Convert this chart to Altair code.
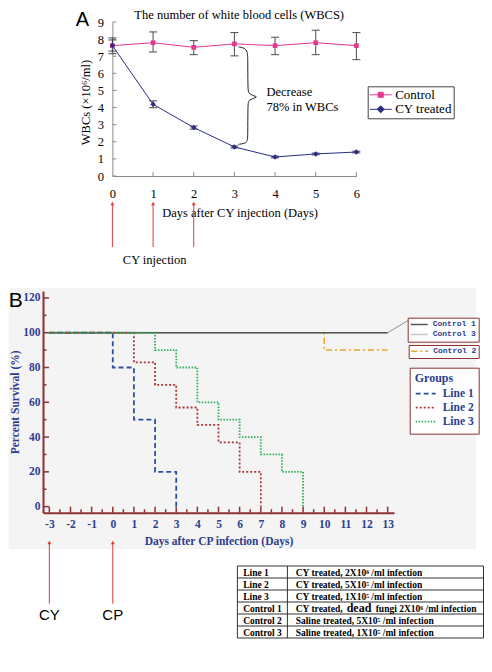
import altair as alt
import pandas as pd

# ---------------- Panel A data ----------------
days_a = [0, 1, 2, 3, 4, 5, 6]
series_a = ["Control", "CY treated"]
control_mean = [7.62, 7.79, 7.52, 7.72, 7.62, 7.79, 7.62]
control_lo = [7.15, 7.25, 7.09, 7.02, 7.09, 7.09, 6.80]
control_hi = [8.07, 8.42, 7.91, 8.38, 8.11, 8.52, 8.38]
cy_mean = [7.62, 4.19, 2.83, 1.70, 1.11, 1.29, 1.40]
cy_lo = [7.30, 3.99, 2.74, 1.64, 1.06, 1.24, 1.35]
cy_hi = [7.95, 4.39, 2.92, 1.76, 1.16, 1.34, 1.45]
a_yticks = [0, 1, 2, 3, 4, 5, 6, 7, 8, 9]
a_xticks = [0, 1, 2, 3, 4, 5, 6]
cy_injection_days = [0, 1, 2]
brace_x = [3.10, 3.26, 3.32, 3.33, 3.33, 3.35, 3.55, 3.55, 3.35, 3.33, 3.33, 3.32, 3.26, 3.10]
brace_y = [7.55, 7.48, 7.25, 6.95, 5.05, 4.78, 4.64, 4.60, 4.46, 4.20, 2.30, 2.05, 1.90, 1.85]

# ---------------- Panel B data ----------------
b_xticks = list(range(-3, 14))
b_yticks = [0, 20, 40, 60, 80, 100, 120]
b_xminor = [x + 0.5 for x in range(-3, 13)]
b_yminor = [10, 30, 50, 70, 90, 110]
groups = ["Line 1", "Line 2", "Line 3"]
line1_x = [-3, 0, 1, 2, 3]
line1_y = [100, 80, 50, 20, 0]
line2_x = [-3, 1, 2, 3, 4, 5, 6, 7]
line2_y = [100, 83, 70, 57, 47, 37, 20, 0]
line3_x = [-3, 2, 3, 4, 5, 6, 7, 8, 9]
line3_y = [100, 90, 80, 60, 50, 40, 30, 20, 0]
controls13 = ["Control 1", "Control 3"]
control13_x = [-3, 13]
control13_y = [100, 100]
control2_x = [-3, 10, 13]
control2_y = [100, 90, 90]
leader_x = [13, 14.0]
leader_y = [100, 107.3]
cp_marks_days = [-3, 0]
cp_marks_text = ["CY", "CP"]

# ---------------- Table ----------------
table_rows = ["Line 1", "Line 2", "Line 3", "Control 1", "Control 2", "Control 3"]
table_desc = ["CY treated,  2X10\u2076 /ml infection",
              "CY treated,  5X10\u2075 /ml infection",
              "CY treated,  1X10\u2075 /ml infection",
              "CY treated,",
              "Saline treated,  5X10\u2075 /ml infection",
              "Saline treated,  1X10\u2075 /ml infection"]
table_big = ["", "", "", "dead", "", ""]
table_tail = ["", "", "", "fungi 2X10\u2076 /ml infection", "", ""]

# ---------------- style / layout ----------------
SERIF = "Liberation Serif"
SANS = "Liberation Sans"
MONO = "Liberation Mono"
PINK = "#e4388e"
NAVY = "#2b2e86"
RED = "#e03c3c"
AXA = "#8a8a8a"
DR = "#8b3232"
BLUE = "#2c3e8f"

A_LEFT, A_W, A_H = 69.4, 244.0, 154.0
B_W, B_H = 351.0, 221.7
S1, S2 = 114.3, 52.3
T_W, T_H = 441.0, 72.0

dummy = pd.DataFrame({"z": [0]})

# ================= Panel A =================
AX_XA = alt.Axis(values=a_xticks, format="d", ticks=False, grid=False, domainColor=AXA,
                 labelFont=SERIF, labelFontSize=12.5, labelColor="black", labelPadding=11,
                 labelFlush=False, labelOverlap=False,
                 title="Days after CY injection (Days)", titleFont=SERIF, titleFontSize=12.5,
                 titleFontWeight="normal", titleColor="black", titleX=196.6, titleY=36.3,
                 titleBaseline="middle", titleAlign="center")
AX_YA = alt.Axis(values=a_yticks, format="d", ticks=False, grid=False, offset=-A_LEFT,
                 domainColor=AXA, labelFont=SERIF, labelFontSize=12.5, labelColor="black",
                 labelPadding=9, labelFlush=False, labelOverlap=False,
                 title="WBCs (\u00d710\u2076/ml)", titleFont=SERIF, titleFontSize=12.5,
                 titleFontWeight="normal", titleColor="black", titleX=-26.7, titleY=80,
                 titleAngle=270, titleBaseline="middle", titleAlign="center")


def XA(f):
    return alt.X(f"{f}:Q", scale=alt.Scale(domain=[0, 6], range=[A_LEFT, A_LEFT + A_W], nice=False, zero=False), axis=AX_XA)


def YA(f):
    return alt.Y(f"{f}:Q", scale=alt.Scale(domain=[0, 9], nice=False, zero=False), axis=AX_YA)


dfA = pd.DataFrame({
    "day": days_a * 2,
    "series": [series_a[0]] * 7 + [series_a[1]] * 7,
    "mean": control_mean + cy_mean,
    "lo": control_lo + cy_lo,
    "hi": control_hi + cy_hi,
})
baseA = alt.Chart(dfA)

ticks_ya = alt.Chart(pd.DataFrame({"v": a_yticks})).mark_rule(color=AXA).encode(
    y=YA("v"), x=alt.value(A_LEFT), x2=alt.value(A_LEFT + 4))
ticks_xa = alt.Chart(pd.DataFrame({"v": a_xticks[1:]})).mark_rule(color=AXA).encode(
    x=XA("v"), y=alt.value(A_H), y2=alt.value(A_H - 4))

err = baseA.mark_rule(color="#4a4a4a", strokeWidth=1).encode(x=XA("day"), y=YA("lo"), y2="hi:Q")
cap_lo = baseA.mark_rule(color="#4a4a4a", xOffset=-4, x2Offset=4).encode(x=XA("day"), x2="day:Q", y=YA("lo"))
cap_hi = baseA.mark_rule(color="#4a4a4a", xOffset=-4, x2Offset=4).encode(x=XA("day"), x2="day:Q", y=YA("hi"))

ctrl = baseA.transform_filter(alt.datum.series == "Control")
cyt = baseA.transform_filter(alt.datum.series == "CY treated")
line_c = ctrl.mark_line(color=PINK, strokeWidth=1).encode(x=XA("day"), y=YA("mean"))
pts_c = ctrl.mark_point(shape="square", filled=True, size=22, color=PINK, opacity=1).encode(x=XA("day"), y=YA("mean"))
line_cy = cyt.mark_line(color=NAVY, strokeWidth=1).encode(x=XA("day"), y=YA("mean"))
pts_cy = cyt.mark_point(shape="diamond", filled=True, size=30, color=NAVY, opacity=1).encode(x=XA("day"), y=YA("mean"))

SQ_PATH = "M-1,0H1M-0.23,-0.23H0.23V0.23H-0.23Z"
DIA_PATH = "M-1,0H1M0,-0.32L0.32,0L0,0.32L-0.32,0Z"
LEG_A = alt.Legend(title=None, orient="none", legendX=324.7, legendY=64.3, direction="vertical",
                   symbolSize=484, symbolStrokeWidth=1, symbolOpacity=1, clipHeight=14,
                   rowPadding=0.5, padding=1.5, labelOffset=3, labelFont=SERIF, labelFontSize=13,
                   labelColor="black", strokeColor="#444", fillColor="white")
carrier = baseA.mark_point(filled=True, opacity=0, size=1).encode(
    x=XA("day"), y=YA("mean"),
    fill=alt.Fill("series:N", scale=alt.Scale(domain=series_a, range=[PINK, NAVY]), legend=LEG_A),
    stroke=alt.Stroke("series:N", scale=alt.Scale(domain=series_a, range=[PINK, NAVY]), legend=LEG_A),
    shape=alt.Shape("series:N", scale=alt.Scale(domain=series_a, range=[SQ_PATH, DIA_PATH]), legend=LEG_A),
)

brace = alt.Chart(pd.DataFrame({"bx": brace_x, "by": brace_y, "o": list(range(len(brace_x)))})).mark_line(
    color="#222", strokeWidth=1, interpolate="basis").encode(x=XA("bx"), y=YA("by"), order="o:Q")

dec1 = alt.Chart(dummy).mark_text(text="Decrease", align="left", baseline="middle", font=SERIF,
                                  fontSize=12.5, color="black").encode(x=alt.value(223.4), y=alt.value(70))
dec2 = alt.Chart(dummy).mark_text(text="78%  in  WBCs", align="left", baseline="middle", font=SERIF,
                                  fontSize=12.5, color="black").encode(x=alt.value(223.4), y=alt.value(85.3))

arrows_a = alt.Chart(pd.DataFrame({"d": cy_injection_days})).mark_rule(color=RED, strokeWidth=1).encode(
    x=XA("d"), y=alt.value(182), y2=alt.value(225))
heads_a = alt.Chart(pd.DataFrame({"d": cy_injection_days})).mark_point(
    shape="triangle-up", filled=True, size=16, color=RED, opacity=1).encode(x=XA("d"), y=alt.value(181.5))
inj_txt = alt.Chart(dummy).mark_text(text="CY injection", align="center", baseline="middle", font=SERIF,
                                     fontSize=12.5, color="black").encode(x=alt.value(111.7), y=alt.value(238.3))
title_a = alt.Chart(dummy).mark_text(text="The number of white blood cells (WBCS)", align="center",
                                     baseline="middle", font=SERIF, fontSize=12.5, color="black").encode(
    x=alt.value(196.2), y=alt.value(-7.5))
letter_a = alt.Chart(dummy).mark_text(text="A", align="left", baseline="alphabetic", font=SANS,
                                      fontSize=20, color="black").encode(x=alt.value(32.7), y=alt.value(3.5))

chartA = alt.layer(ticks_ya, ticks_xa, err, cap_lo, cap_hi, line_c, line_cy, pts_c, pts_cy, carrier,
                   brace, dec1, dec2, arrows_a, heads_a, inj_txt, title_a, letter_a).properties(
    width=A_LEFT + A_W, height=A_H)

# ================= Panel B =================
AX_XB = alt.Axis(values=b_xticks, ticks=False, grid=False, domainColor=DR, domainWidth=2, zindex=1,
                 labelFont=SERIF, labelFontWeight="bold", labelFontSize=11.5, labelColor=BLUE,
                 labelPadding=6, labelFlush=False, labelOverlap=False,
                 labelExpr="replace(datum.label, '\u2212', '-')",
                 title="Days after CP infection (Days)", titleFont=SERIF, titleFontWeight="bold",
                 titleFontSize=11.5, titleColor=BLUE, titleY=29, titleBaseline="middle")
AX_YB = alt.Axis(values=b_yticks, ticks=False, grid=False, domainColor=DR, domainWidth=2, zindex=1,
                 labelFont=SERIF, labelFontWeight="bold", labelFontSize=11.5, labelColor=BLUE,
                 labelPadding=3, labelFlush=False, labelOverlap=False,
                 title="Percent Survival (%)", titleFont=SERIF, titleFontWeight="bold",
                 titleFontSize=11.5, titleColor=BLUE, titleX=-28, titleY=B_H / 2, titleAngle=270,
                 titleBaseline="middle", titleAlign="center")


def XB(f):
    return alt.X(f"{f}:Q", scale=alt.Scale(domain=[-3.3, 13.3], nice=False, zero=False), axis=AX_XB)


def YB(f):
    return alt.Y(f"{f}:Q", scale=alt.Scale(domain=[-3.5, 124], nice=False, zero=False), axis=AX_YB)


bg_b = alt.Chart(dummy).mark_rect(color="#f4f4f4").encode(
    x=alt.value(-34.3), x2=alt.value(433), y=alt.value(-3), y2=alt.value(258))

tick_xmaj = alt.Chart(pd.DataFrame({"t": b_xticks})).mark_rule(color=DR, strokeWidth=1.5).encode(
    x=XB("t"), y=alt.value(B_H), y2=alt.value(B_H - 6))
tick_xmin = alt.Chart(pd.DataFrame({"t": b_xminor})).mark_rule(color=DR, strokeWidth=1.5).encode(
    x=XB("t"), y=alt.value(B_H), y2=alt.value(B_H - 3.5))
tick_ymaj = alt.Chart(pd.DataFrame({"t": b_yticks})).mark_rule(color=DR, strokeWidth=1.5).encode(
    y=YB("t"), x=alt.value(0), x2=alt.value(6))
tick_ymin = alt.Chart(pd.DataFrame({"t": b_yminor})).mark_rule(color=DR, strokeWidth=1.5).encode(
    y=YB("t"), x=alt.value(0), x2=alt.value(3.5))

df_c13 = pd.DataFrame({
    "day": control13_x * 2,
    "surv": control13_y * 2,
    "ctrl": ["Control 3"] * 2 + ["Control 1"] * 2,
})
LEG1 = alt.Legend(title=None, orient="none", legendX=364.7, legendY=26.7, direction="vertical",
                  symbolType="stroke", symbolSize=289, symbolStrokeWidth=1.5, clipHeight=9.5,
                  rowPadding=0, padding=2, labelOffset=4, labelFont=MONO, labelFontSize=8,
                  labelFontWeight="bold", labelColor=BLUE, strokeColor=DR, fillColor="white")
line_c13 = alt.Chart(df_c13).mark_line(strokeWidth=1.5).encode(
    x=XB("day"), y=YB("surv"),
    color=alt.Color("ctrl:N", scale=alt.Scale(domain=controls13, range=["#555555", "#c4c4c4"]), legend=LEG1))

df_c2 = pd.DataFrame({"day": control2_x, "surv": control2_y, "ctrl2": ["Control 2"] * len(control2_x)})
LEG2 = alt.Legend(title=None, orient="none", legendX=365.7, legendY=54, direction="vertical",
                  symbolType="stroke", symbolSize=289, symbolStrokeWidth=1.5, clipHeight=9.5,
                  rowPadding=0, padding=1.5, labelOffset=4, labelFont=MONO, labelFontSize=8,
                  labelFontWeight="bold", labelColor=BLUE, strokeColor=DR, fillColor="white")
line_c2 = alt.Chart(df_c2).mark_line(strokeWidth=1.5, interpolate="step-after").encode(
    x=XB("day"), y=YB("surv"),
    color=alt.Color("ctrl2:N", scale=alt.Scale(domain=["Control 2"], range=["#f0a428"]), legend=LEG2),
    strokeDash=alt.StrokeDash("ctrl2:N", scale=alt.Scale(domain=["Control 2"], range=[[6, 3, 2, 3]]), legend=LEG2))

df_g = pd.DataFrame({
    "day": line1_x + line2_x + line3_x,
    "surv": line1_y + line2_y + line3_y,
    "grp": [groups[0]] * len(line1_x) + [groups[1]] * len(line2_x) + [groups[2]] * len(line3_x),
})
LEG3 = alt.Legend(title="Groups", orient="none", legendX=366.7, legendY=76.7, direction="vertical",
                  symbolType="stroke", symbolSize=400, symbolStrokeWidth=1.8, clipHeight=14,
                  rowPadding=0, padding=5, labelOffset=6, labelFont=SERIF, labelFontSize=11.5,
                  labelFontWeight="bold", labelColor=BLUE, titleFont=SERIF, titleFontSize=12,
                  titleFontWeight="bold", titleColor=BLUE, titlePadding=2, strokeColor=DR,
                  fillColor="white")
line_g = alt.Chart(df_g).mark_line(strokeWidth=1.8, interpolate="step-after").encode(
    x=XB("day"), y=YB("surv"),
    color=alt.Color("grp:N", scale=alt.Scale(domain=groups, range=["#3050a0", "#a83a3a", "#2fae58"]), legend=LEG3),
    strokeDash=alt.StrokeDash("grp:N", scale=alt.Scale(domain=groups, range=[[5, 3], [2, 2], [1.5, 1.5]]), legend=LEG3))

leader = alt.Chart(pd.DataFrame({"lx": leader_x, "ly": leader_y})).mark_line(color="#777777", strokeWidth=0.8).encode(
    x=XB("lx"), y=YB("ly"))

df_cp = pd.DataFrame({"d": cp_marks_days, "lab": cp_marks_text})
arrows_b = alt.Chart(df_cp).mark_rule(color=RED, strokeWidth=1).encode(x=XB("d"), y=alt.value(252), y2=alt.value(312.7))
heads_b = alt.Chart(df_cp).mark_point(shape="triangle-up", filled=True, size=16, color=RED, opacity=1).encode(
    x=XB("d"), y=alt.value(251.5))
cp_txt = alt.Chart(df_cp).mark_text(align="center", baseline="middle", font=SANS, fontSize=15, color="black").encode(
    x=XB("d"), y=alt.value(324), text="lab:N")
letter_b = alt.Chart(dummy).mark_text(text="B", align="left", baseline="alphabetic", font=SANS,
                                      fontSize=21, color="black").encode(x=alt.value(-34.3), y=alt.value(16))

chartB = alt.layer(bg_b, tick_xmaj, tick_xmin, tick_ymaj, tick_ymin, line_c2, line_c13, line_g, leader,
                   arrows_b, heads_b, cp_txt, letter_b).resolve_scale(
    color="independent", strokeDash="independent").properties(width=B_W, height=B_H)

# ================= Table =================
TL, TSEP, TR = 194.4, 244.4, 440.5
X0 = 252.7
df_t = pd.DataFrame({"row": table_rows, "desc": table_desc, "big": table_big, "tail": table_tail,
                     "idx": list(range(len(table_rows)))})


def YT(f):
    return alt.Y(f"{f}:Q", scale=alt.Scale(domain=[0, 6], reverse=True, nice=False, zero=False), axis=None)


baseT = alt.Chart(df_t).transform_calculate(yc="datum.idx + 0.5")
hlines = alt.Chart(pd.DataFrame({"e": list(range(len(table_rows) + 1))})).mark_rule(color="#333333", strokeWidth=1).encode(
    y=YT("e"), x=alt.value(TL), x2=alt.value(TR))
vl1 = alt.Chart(dummy).mark_rule(color="#333333", strokeWidth=1).encode(x=alt.value(TL), y=alt.value(0), y2=alt.value(T_H))
vl2 = alt.Chart(dummy).mark_rule(color="#333333", strokeWidth=1).encode(x=alt.value(TSEP), y=alt.value(0), y2=alt.value(T_H))
vl3 = alt.Chart(dummy).mark_rule(color="#333333", strokeWidth=1).encode(x=alt.value(TR), y=alt.value(0), y2=alt.value(T_H))
t_lab = baseT.mark_text(align="left", baseline="alphabetic", dy=3.5, font=SERIF, fontWeight="bold",
                        fontSize=9.5, color="black").encode(x=alt.value(200.2), y=YT("yc"), text="row:N")
t_desc = baseT.mark_text(align="left", baseline="alphabetic", dy=3.5, font=SERIF, fontWeight="bold",
                         fontSize=9.5, color="black").encode(x=alt.value(X0), y=YT("yc"), text="desc:N")
t_big = baseT.mark_text(align="left", baseline="alphabetic", dy=3.5, font=SERIF, fontWeight="bold",
                        fontSize=12, color="black").encode(x=alt.value(X0 + 51), y=YT("yc"), text="big:N")
t_tail = baseT.mark_text(align="left", baseline="alphabetic", dy=3.5, font=SERIF, fontWeight="bold",
                         fontSize=9.5, color="black").encode(x=alt.value(X0 + 80), y=YT("yc"), text="tail:N")
chartT = alt.layer(hlines, vl1, vl2, vl3, t_lab, t_desc, t_big, t_tail).properties(width=T_W, height=T_H)

spacer1 = alt.Chart(dummy).mark_point(opacity=0).properties(width=10, height=S1)
spacer2 = alt.Chart(dummy).mark_point(opacity=0).properties(width=10, height=S2)

chart = alt.vconcat(chartA, spacer1, chartB, spacer2, chartT, spacing=0, bounds="flush").properties(
    padding=0).configure_view(stroke=None)

chart.save("out.html", embed_options={"renderer": "svg", "actions": False})
